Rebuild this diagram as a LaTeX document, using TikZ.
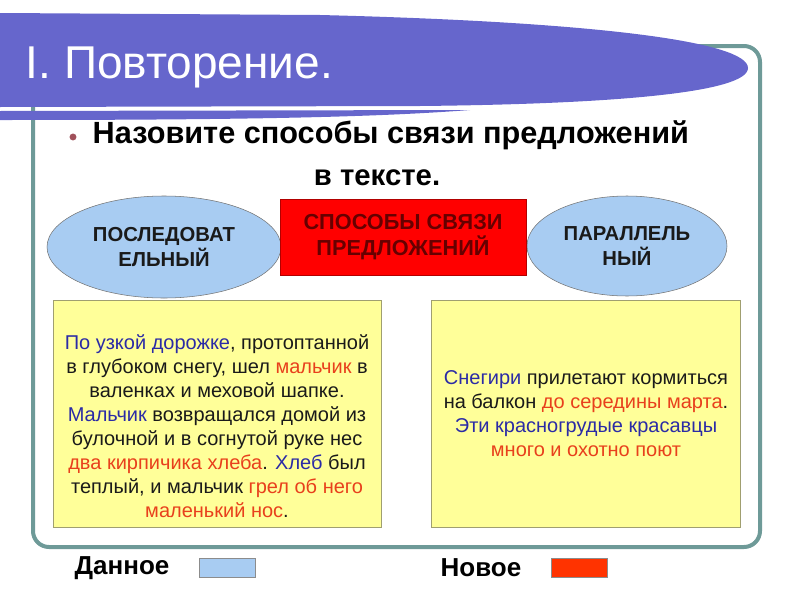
\documentclass[tikz,border=0pt]{standalone}
\usepackage{fontspec}
\setmainfont{Liberation Sans}
\usetikzlibrary{shapes.geometric}
\begin{document}
\begin{tikzpicture}[x=0.75pt,y=-0.75pt]
\definecolor{cframe}{HTML}{6E9A98}\definecolor{cbanner}{HTML}{6666CC}
\definecolor{coval}{HTML}{A8CCF2}\definecolor{cred}{HTML}{FF0000}
\definecolor{cyel}{HTML}{FFFF99}\definecolor{cyeld}{HTML}{A09F70}
\definecolor{tblue}{HTML}{2B2BA6}\definecolor{tred}{HTML}{E8401C}
\definecolor{tdark}{HTML}{1A1A1A}\definecolor{tmaroon}{HTML}{660000}
\definecolor{cbullet}{HTML}{A0505A}\definecolor{cnew}{HTML}{FF3300}
\tikzset{ovalnode/.style={ellipse,draw=black!55,fill=coval,inner sep=0pt,align=center,font=\bfseries\fontsize{15.2}{19}\selectfont,text=tdark},
 textbox/.style={draw=cyeld,fill=cyel,inner sep=0pt,minimum height=170.25pt},
 bodytext/.style={align=center,font=\fontsize{15}{18}\selectfont,text=tdark},
 legendbox/.style={draw=black!45,minimum width=42pt,minimum height=14.25pt,inner sep=0pt},
 legendtext/.style={font=\bfseries\fontsize{19.5}{22}\selectfont,text=black}}
\useasboundingbox (0,0) rectangle (800,600);
% frame and title banner
\draw[cframe,line width=3pt,rounded corners=12pt] (33,46) rectangle (760,547);
\fill[cbanner] (0,13) -- (320,15) .. controls (600,22) and (748,42) .. (748,68) .. controls (748,92) and (620,104) .. (420,106) -- (0,107) -- cycle;
\fill[cbanner] (0,111) -- (470,110) .. controls (380,117) and (250,120) .. (0,120) -- cycle;
\node (title) [anchor=west,text=white,font=\fontsize{34.5}{40}\selectfont] at (21,67) {I. Повторение.};
\fill[cbullet] (73,137) circle (2.6pt);
\node (ask) [anchor=west,font=\bfseries\fontsize{23}{28}\selectfont] at (88,135) {Назовите способы связи предложений};
\node (ask2) [font=\bfseries\fontsize{22}{26}\selectfont] at (377,178) {в тексте.};
% ways of linking
\node (seq) [ovalnode,minimum width=175.5pt,minimum height=76.5pt] at (164,247) {ПОСЛЕДОВАТ\\ЕЛЬНЫЙ};
\node (par) [ovalnode,minimum width=150pt,minimum height=75pt] at (627,246) {ПАРАЛЛЕЛЬ\\НЫЙ};
\node (ways) [draw=red!70!black,fill=cred,minimum width=184.5pt,minimum height=57pt,inner sep=0pt,align=center,font=\bfseries\fontsize{16.3}{19}\selectfont,text=tmaroon] at (403,237) {СПОСОБЫ СВЯЗИ\\ПРЕДЛОЖЕНИЙ};
% example texts
\node (lbox) [textbox,minimum width=246pt] at (217,413.5) {};
\node (ltext) [bodytext] at (217,426) {{\color{tblue}По узкой дорожке}, протоптанной\\в глубоком снегу, шел {\color{tred}мальчик} в\\валенках и меховой шапке.\\{\color{tblue}Мальчик} возвращался домой из\\булочной и в согнутой руке нес\\{\color{tred}два кирпичика хлеба}. {\color{tblue}Хлеб} был\\теплый, и мальчик {\color{tred}грел об него}\\{\color{tred}маленький нос}.};
\node (rbox) [textbox,minimum width=231.75pt] at (586,413.5) {};
\node (rtext) [bodytext] at (586,414) {{\color{tblue}Снегири} прилетают кормиться\\на балкон {\color{tred}до середины марта}.\\{\color{tblue}Эти красногрудые красавцы}\\{\color{tred}много и охотно поют}};
% legend
\node (given) [legendtext] at (122,568) {Данное};
\node (givenkey) [legendbox,fill=coval] at (227,567.5) {};
\node (new) [legendtext] at (481,568) {Новое};
\node (newkey) [legendbox,fill=cnew] at (579,567.5) {};
\end{tikzpicture}
\end{document}
